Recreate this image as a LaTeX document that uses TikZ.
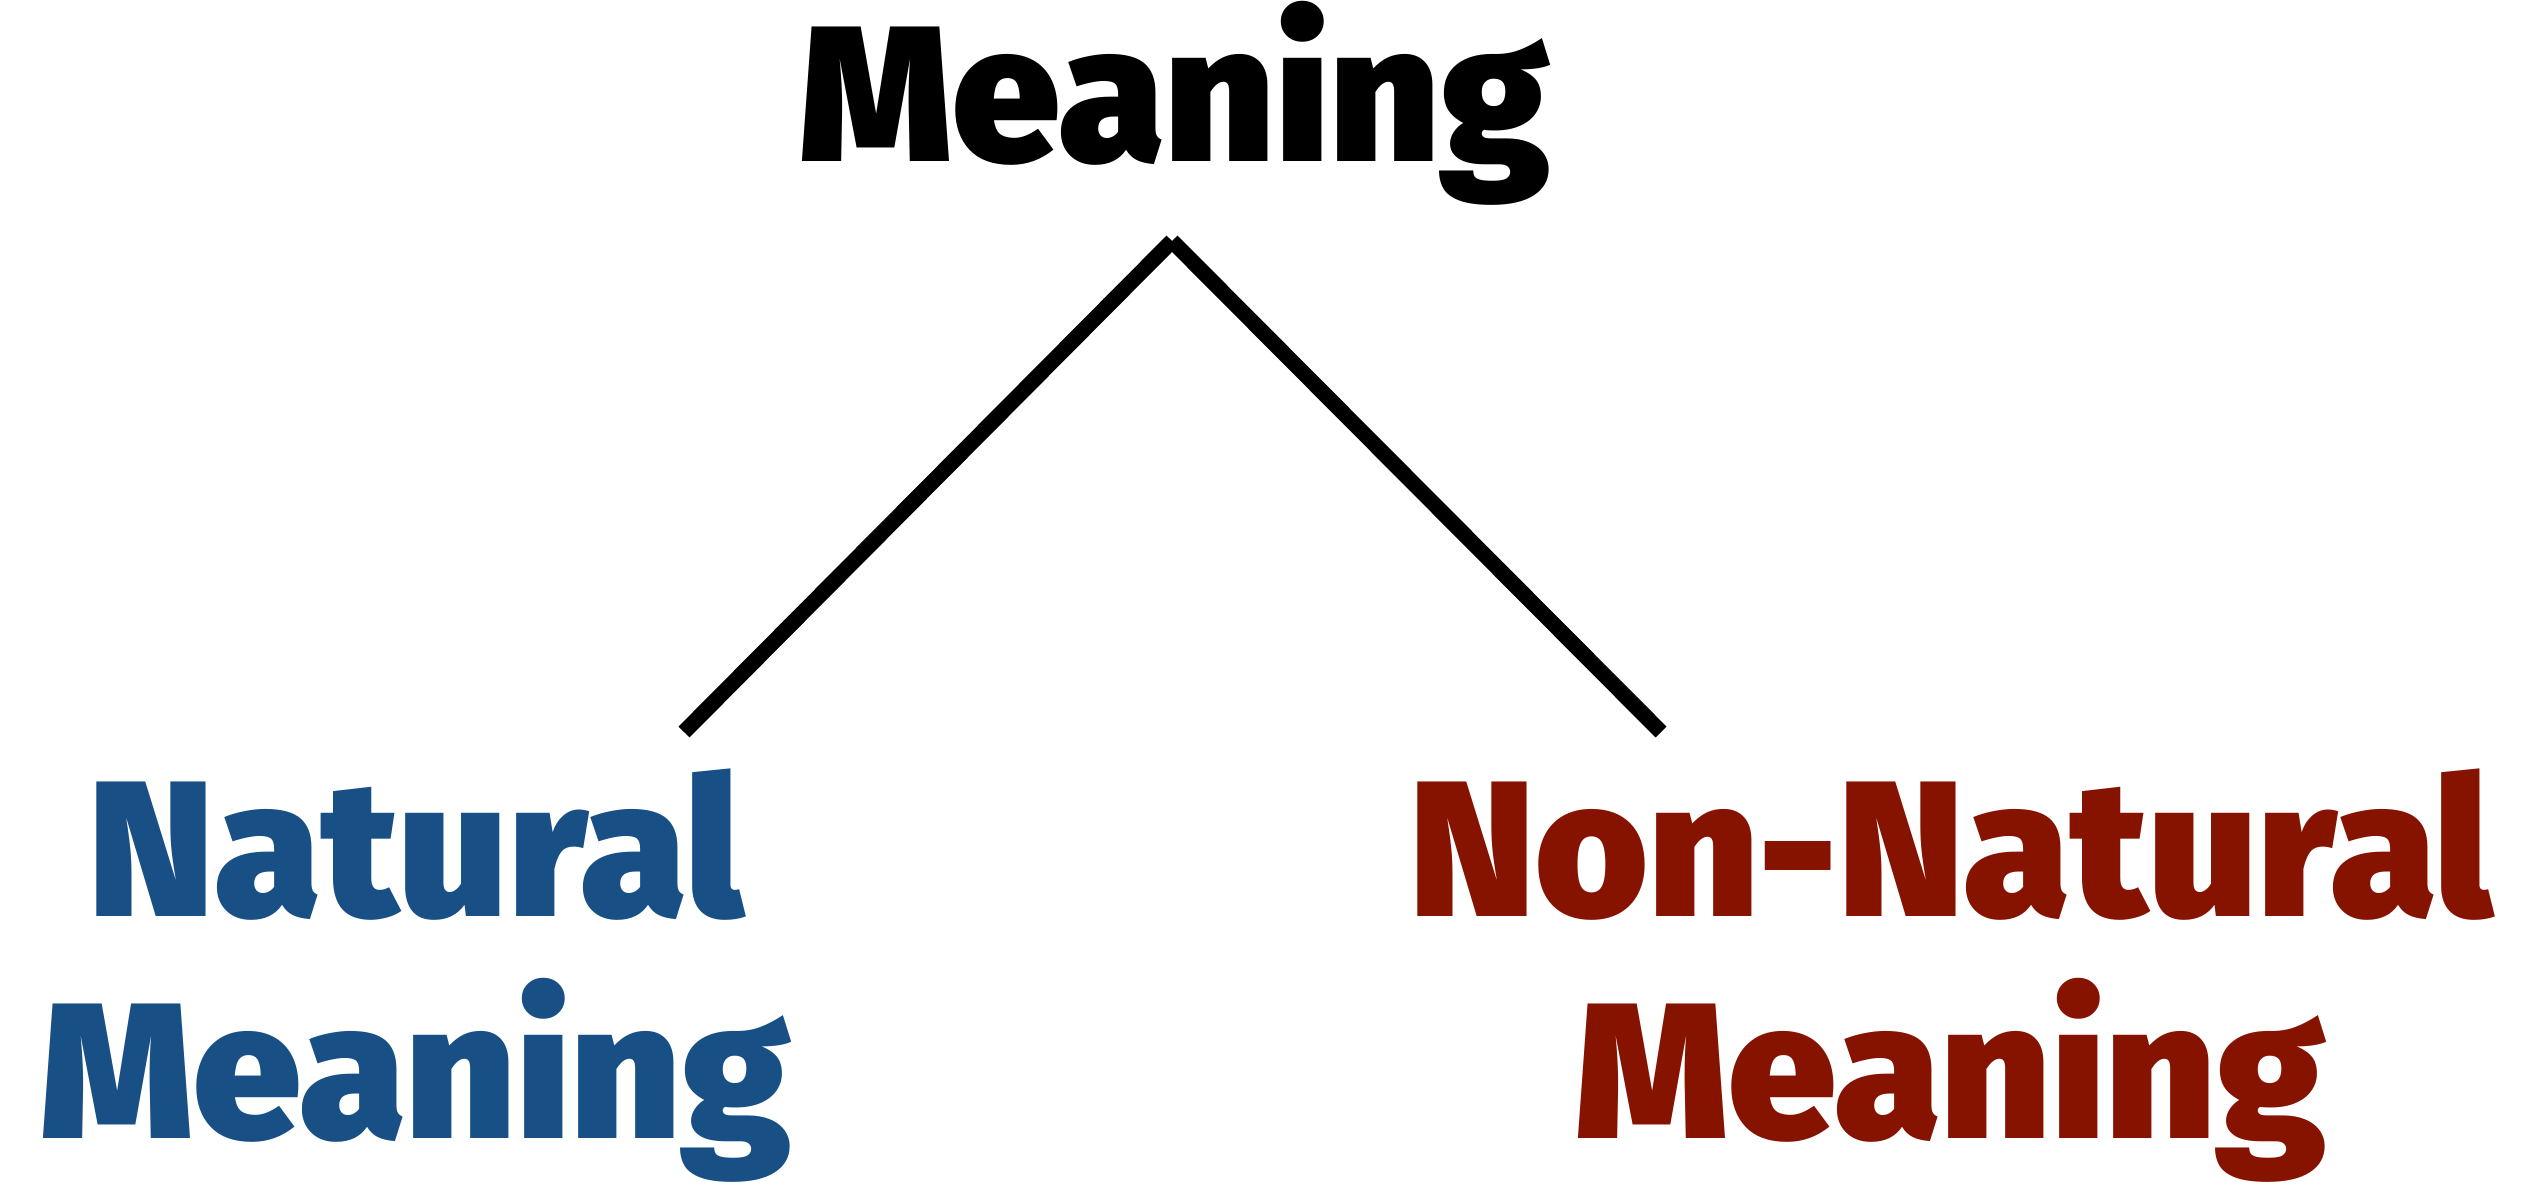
\documentclass[tikz,border=0pt]{standalone}
\usepackage{fontspec}
\setmainfont{Fira Sans}[BoldFont={Fira Sans Black}]
\usetikzlibrary{calc}
\definecolor{natblue}{HTML}{184F85}
\definecolor{nonred}{HTML}{861200}

\begin{document}
\begin{tikzpicture}[
    word/.style={font=\fontsize{55}{63}\selectfont\bfseries, inner sep=0pt, align=center},
    branch/.style={line width=4.4pt, line cap=butt}
]

% 1. Frame
\useasboundingbox (0,0) rectangle (25.24,11.91);

% 2. Words (base = baseline of the last line)
\node[word, anchor=base] (root) at (11.75,10.30) {Meaning};
\node[word, natblue, anchor=base] (natural) at (4.16,0.53) {Natural\\Meaning};
\node[word, nonred, anchor=base] (nonnatural) at (19.51,0.53) {Non-Natural\\Meaning};

% 3. Branches
\coordinate (apex) at (11.72,9.50);
\coordinate (natTop) at (6.84,4.59);
\coordinate (nonTop) at (16.61,4.59);
\draw[branch] (apex) -- (natTop);
\draw[branch] (apex) -- (nonTop);

\end{tikzpicture}
\end{document}
